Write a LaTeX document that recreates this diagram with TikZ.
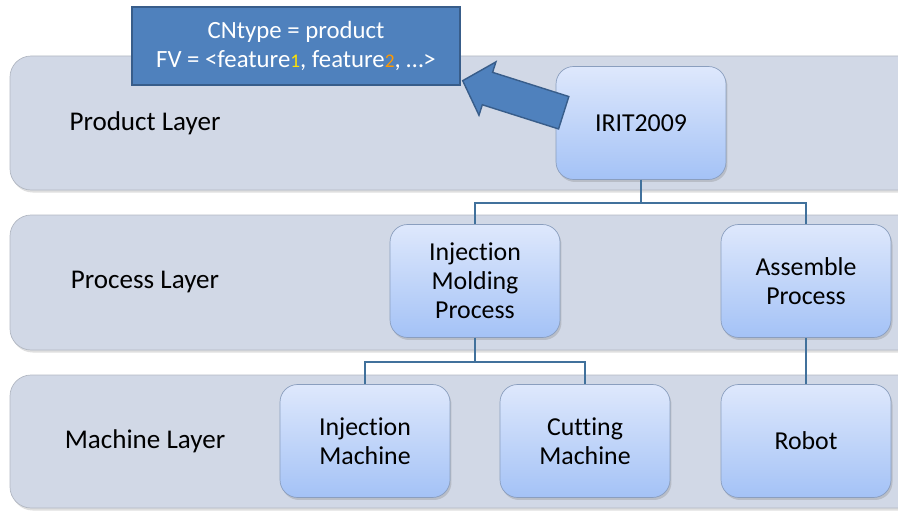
\documentclass[tikz,border=0pt]{standalone}
\usepackage{fontspec}
\setmainfont[RawFeature={-liga;-dlig;-clig}]{Carlito}
\usetikzlibrary{calc,shadows}
\definecolor{bandgray}{RGB}{209,216,230}
\definecolor{boxtop}{RGB}{222,232,252}
\definecolor{boxbot}{RGB}{164,194,246}
\definecolor{boxline}{RGB}{138,158,190}
\definecolor{linkblue}{RGB}{65,113,156}
\definecolor{calloutfill}{RGB}{79,129,189}
\definecolor{calloutline}{RGB}{56,93,138}
\tikzset{
  layer/.style={rounded corners=12, fill=bandgray, draw=bandgray!85!black, line width=0.4pt,
    drop shadow={opacity=0.25, shadow xshift=0.03cm, shadow yshift=-0.05cm}},
  layerlabel/.style={font=\fontsize{15.4}{18}\selectfont, anchor=center},
  item/.style={rounded corners=10, draw=boxline, top color=boxtop, bottom color=boxbot,
    minimum width=3.4cm, minimum height=2.26cm, align=center,
    font=\fontsize{14.7}{16.4}\selectfont,
    drop shadow={opacity=0.3, shadow xshift=0.03cm, shadow yshift=-0.05cm}},
  link/.style={draw=linkblue, line width=1.1pt},
  callout/.style={fill=calloutfill, draw=calloutline, line width=0.8pt, text=white,
    minimum width=6.56cm, minimum height=1.56cm, align=center,
    font=\fontsize{14.1}{18.1}\selectfont}
}
\newcommand{\idx}[2]{{\color{#1}\fontsize{11}{11}\selectfont#2}}
\begin{document}
\begin{tikzpicture}[x=0.02cm, y=-0.02cm]
\clip (0,0) rectangle (898,510);
\useasboundingbox (0,0) rectangle (898,510);
% layers
\draw[layer] (10,56) rectangle (930,190);
\draw[layer] (10,215) rectangle (930,350);
\draw[layer] (10,375) rectangle (930,508);
\node[layerlabel] (prodlayer) at (145,123) {Product Layer};
\node[layerlabel] (proclayer) at (145,282) {Process Layer};
\node[layerlabel] (machlayer) at (145,441) {Machine Layer};
% nodes
\node[item] (irit) at (641,123) {IRIT2009};
\node[item] (molding) at (475,281) {Injection\\Molding\\Process};
\node[item] (assemble) at (806,281) {Assemble\\Process};
\node[item] (injmach) at (365,441) {Injection\\Machine};
\node[item] (cutmach) at (585,441) {Cutting\\Machine};
\node[item] (robot) at (806,441) {Robot};
% tree links
\draw[link] (irit.south) -- ++(0,23) -| (molding.north);
\draw[link] (irit.south) -- ++(0,23) -| (assemble.north);
\draw[link] (molding.south) -- ++(0,24) -| (injmach.north);
\draw[link] (molding.south) -- ++(0,24) -| (cutmach.north);
\draw[link] (assemble.south) -- (robot.north);
% callout
\node[callout] (cn) at (296,46) {\raisebox{-2pt}{CNtype = product}\\FV = <feature\idx{yellow!85!orange}{1}, feature\idx{orange!80!yellow}{2}, …>};
\begin{scope}[shift={($(cn.south east)+(2,-5)$)}, rotate=-17.6]
\draw[fill=calloutfill, draw=calloutline, line width=0.8pt, line join=miter]
  (0,0) -- (26,28) -- (26,17) -- (106,17) -- (106,-17) -- (26,-17) -- (26,-28) -- cycle;
\end{scope}
\end{tikzpicture}
\end{document}
